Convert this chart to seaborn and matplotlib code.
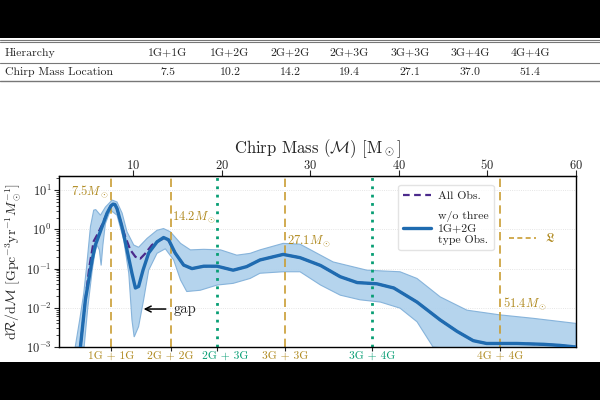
import numpy as np
import pandas as pd
import seaborn as sns
import matplotlib.pyplot as plt
from matplotlib.patches import Rectangle
from matplotlib.lines import Line2D
from matplotlib.transforms import ScaledTranslation

# table contents
hierarchy = ["1G+1G", "1G+2G", "2G+2G", "2G+3G", "3G+3G", "3G+4G", "4G+4G"]
chirp_location = ["7.5", "10.2", "14.2", "19.4", "27.1", "37.0", "51.4"]

# marker lines on the chart
peak_mass = [7.5, 14.2, 19.4, 27.1, 37.0, 51.4]
peak_label = ["1G + 1G", "2G + 2G", "2G + 3G", "3G + 3G", "3G + 4G", "4G + 4G"]
peak_kind = ["same", "same", "cross", "same", "cross", "same"]

# median rate, w/o three 1G+2G type obs.
med_mass = [4.02, 4.58, 5.34, 5.71, 6.26, 7.03, 7.47, 7.71, 7.92, 8.15, 8.72, 9.28, 9.84,
            10.23, 10.59, 11.09, 11.73, 12.67, 13.41, 13.99, 14.72, 15.68, 16.62, 17.95, 19.46,
            21.27, 22.79, 24.30, 26.92, 28.83, 31.15, 33.37, 35.28, 37.50, 39.42, 42.04, 44.66,
            46.57, 48.39, 49.9, 53.33, 56.35, 58.16, 60.0]
med_rate = [0.001, 0.016, 0.166, 0.40, 0.87, 2.6, 4.0, 4.4, 4.3, 3.4, 1.16, 0.30, 0.076,
            0.032, 0.035, 0.091, 0.25, 0.48, 0.62, 0.54, 0.25, 0.123, 0.10, 0.115, 0.115,
            0.091, 0.112, 0.166, 0.23, 0.19, 0.12, 0.062, 0.044, 0.041, 0.032, 0.014, 0.0049,
            0.0025, 0.00145, 0.00123, 0.00123, 0.00117, 0.0011, 0.001]

# median rate, all obs.
all_mass = [4.02, 4.58, 5.05, 5.52, 5.95, 6.46, 7.03, 7.47, 7.71, 7.92, 8.15, 8.72, 9.08, 9.66,
            10.23, 10.79, 11.36, 12.10, 13.01, 13.41, 13.99, 14.72, 15.68, 16.62, 17.95, 19.46,
            21.27, 22.79, 24.30, 26.92, 28.83, 31.15, 33.37, 35.28, 37.50, 39.42, 42.04, 44.66,
            46.57, 48.39, 49.9, 53.33, 56.35, 58.16, 60.0]
all_rate = [0.001, 0.016, 0.12, 0.5, 0.75, 1.3, 2.6, 4.0, 4.4, 4.3, 3.4, 1.2, 0.65, 0.30,
            0.20, 0.18, 0.245, 0.40, 0.54, 0.58, 0.52, 0.25, 0.123, 0.10, 0.115, 0.115,
            0.091, 0.112, 0.166, 0.23, 0.19, 0.12, 0.062, 0.044, 0.041, 0.032, 0.014, 0.0049,
            0.0025, 0.00145, 0.00123, 0.00123, 0.00117, 0.0011, 0.001]

# 90% band
upper_mass = [3.43, 3.94, 4.39, 4.74, 5.15, 5.52, 5.75, 6.28, 6.84, 7.60, 8.15, 8.73, 9.28,
              10.04, 10.59, 11.55, 12.67, 13.41, 14.18, 15.33, 16.44, 17.95, 19.86, 21.68,
              23.19, 24.30, 26.92, 28.83, 32.56, 36.39, 40.12, 42.04, 44.66, 47.68, 51.41,
              55.14, 60.0]
upper_rate = [0.001, 0.005, 0.023, 0.126, 1.17, 3.1, 3.2, 2.3, 3.7, 5.6, 5.0, 2.6, 0.87, 0.40,
              0.35, 0.59, 0.95, 1.05, 0.87, 0.44, 0.30, 0.31, 0.30, 0.22, 0.245, 0.30,
              0.44, 0.42, 0.148, 0.091, 0.083, 0.056, 0.019, 0.0087, 0.0066, 0.0054, 0.004]
lower_mass = [4.44, 4.85, 5.35, 5.65, 5.90, 6.16, 6.36, 6.56, 6.84, 7.41, 8.15, 8.91, 9.48,
              9.84, 10.09, 10.59, 11.16, 11.73, 12.67, 13.61, 14.55, 15.33, 16.03, 17.55,
              19.46, 21.27, 23.19, 24.30, 26.92, 28.83, 31.15, 33.37, 35.59, 37.90, 40.12,
              42.04, 43.85, 60.0]
lower_rate = [0.001, 0.01, 0.09, 0.25, 0.40, 0.3, 0.12, 0.4, 1.4, 3.1, 2.3, 0.54, 0.076, 0.0049,
              0.0018, 0.0033, 0.016, 0.091, 0.245, 0.32, 0.166, 0.051, 0.026, 0.028, 0.038,
              0.042, 0.056, 0.076, 0.083, 0.083, 0.038, 0.021, 0.016, 0.014, 0.0098, 0.0044,
              0.001, 0.0005]

gold = "#c99d33"
gold_txt = "#b08a20"
green = "#079e74"
blue = "#1f6bb0"
purple = "#4b2a8c"

sns.set_style("ticks")
plt.rcParams["font.family"] = ["cmr10", "DejaVu Serif"]
plt.rcParams["mathtext.fontset"] = "cm"
plt.rcParams["axes.formatter.use_mathtext"] = True

fig = plt.figure(figsize=(6, 4), dpi=100, facecolor="black")
fig.patches.append(Rectangle((0, 1 - 362 / 400), 1, (362 - 38) / 400, transform=fig.transFigure,
                             facecolor="white", edgecolor="none", zorder=-10))

# table on top
def fy(py):
    return 1 - py / 400

for py, lw in [(39.5, 0.8), (41.5, 0.8), (63, 0.8), (80.5, 1.0)]:
    fig.add_artist(Line2D([0, 1], [fy(py), fy(py)], transform=fig.transFigure, color="#777777", lw=lw))
fig.text(5 / 600, fy(53), "Hierarchy", fontsize=8.5, va="center")
fig.text(5 / 600, fy(72), "Chirp Mass Location", fontsize=8.5, va="center")
col_x = [168, 230, 290, 349, 410, 470, 530]
for cx, h, c in zip(col_x, hierarchy, chirp_location):
    fig.text(cx / 600, fy(53), h, fontsize=8.5, va="center", ha="center")
    fig.text(cx / 600, fy(72), c, fontsize=8.5, va="center", ha="center")

ax = fig.add_axes([59 / 600, 1 - 347 / 400, 517 / 600, 171 / 400])
ax.set_facecolor("white")

# band
ax.fill(upper_mass + lower_mass[::-1], upper_rate + lower_rate[::-1],
        facecolor="#add0ec", edgecolor="#7eaed8", lw=0.8, alpha=0.9, zorder=1)

df_all = pd.DataFrame({"mass": all_mass, "rate": all_rate})
df_med = pd.DataFrame({"mass": med_mass, "rate": med_rate})
sns.lineplot(data=df_all, x="mass", y="rate", ax=ax, color=purple, lw=1.6,
             dashes=(4, 2.5), linestyle="--", zorder=3)
sns.lineplot(data=df_med, x="mass", y="rate", ax=ax, color=blue, lw=2.4, zorder=4)

for m, kind in zip(peak_mass, peak_kind):
    if kind == "same":
        ax.axvline(m, color=gold, ls=(0, (5, 3)), lw=1.2, zorder=2)
    else:
        ax.axvline(m, color=green, ls=(0, (1, 2)), lw=2.0, zorder=2)

ax.set_yscale("log")
ax.set_xlim(1.6, 60)
ax.set_ylim(1e-3, 23)
ax.grid(True, which="major", axis="y", ls=":", lw=0.6, color="#dddddd")
ax.set_xlabel("")
ax.set_ylabel(r"d$\mathcal{R}$/d$\mathcal{M}$ [Gpc$^{-3}$yr$^{-1}M_\odot^{-1}$]", fontsize=10,
              labelpad=2)
ax.tick_params(axis="y", labelsize=9, pad=2)

# bottom ticks with the hierarchy names
ax.set_xticks(peak_mass)
ax.set_xticklabels(peak_label, fontsize=8.3)
for lab, t, kind in zip(ax.get_xticklabels(), ax.xaxis.get_major_ticks(), peak_kind):
    c = gold_txt if kind == "same" else green
    lab.set_color(c)
    t.tick1line.set_color(c)
ax.tick_params(axis="x", length=3, pad=0)
# the 2G + 3G name sits a bit to the right so it clears 2G + 2G
lab23 = ax.get_xticklabels()[2]
lab23.set_transform(lab23.get_transform() + ScaledTranslation(0.09, 0, fig.dpi_scale_trans))

# top axis with mass ticks
top = ax.secondary_xaxis("top")
top.set_xticks([10, 20, 30, 40, 50, 60])
top.tick_params(labelsize=9, length=4, pad=-1)
top.set_xlabel(r"Chirp Mass ($\mathcal{M}$) [M$_\odot$]", fontsize=12, labelpad=3.5)

for s in ax.spines.values():
    s.set_color("black")
    s.set_linewidth(1.0)

ax.text(7.2, 9, r"7.5$M_\odot$", color=gold_txt, fontsize=9, ha="right", va="center")
ax.text(14.4, 2.1, r"14.2$M_\odot$", color=gold_txt, fontsize=9, ha="left", va="center")
ax.text(27.3, 0.5, r"27.1$M_\odot$", color=gold_txt, fontsize=9, ha="left", va="center")
ax.text(51.7, 0.013, r"51.4$M_\odot$", color=gold_txt, fontsize=9, ha="left", va="center")

ax.annotate("gap", xy=(11.16, 0.0093), xytext=(14.5, 0.0093), fontsize=10.5, ha="left", va="center",
            arrowprops=dict(arrowstyle="->", color="black", lw=1.1, shrinkA=3, shrinkB=0))

h1 = Line2D([], [], color=purple, ls=(0, (3, 2)), lw=1.6)
h2 = Line2D([], [], color=blue, lw=2.4)
leg1 = ax.legend([h1, h2], ["All Obs.", "w/o three\n1G+2G\ntype Obs."], loc="upper left",
                 bbox_to_anchor=(0.656, 0.947), borderaxespad=0, fontsize=8.5, frameon=True,
                 handlelength=2.3, handletextpad=0.6, labelspacing=0.9, borderpad=0.45)
leg1.get_frame().set_edgecolor("#dddddd")
ax.add_artist(leg1)
h3 = Line2D([], [], color=gold, ls=(0, (3, 2)), lw=1.2)
leg2 = ax.legend([h3], [r"$\mathfrak{L}$"], loc="center left", bbox_to_anchor=(0.86, 0.635),
                 borderaxespad=0, fontsize=9, frameon=False, handlelength=2.2,
                 handletextpad=0.7, labelcolor=gold_txt)

fig.savefig("out.png", dpi=100, facecolor=fig.get_facecolor())
